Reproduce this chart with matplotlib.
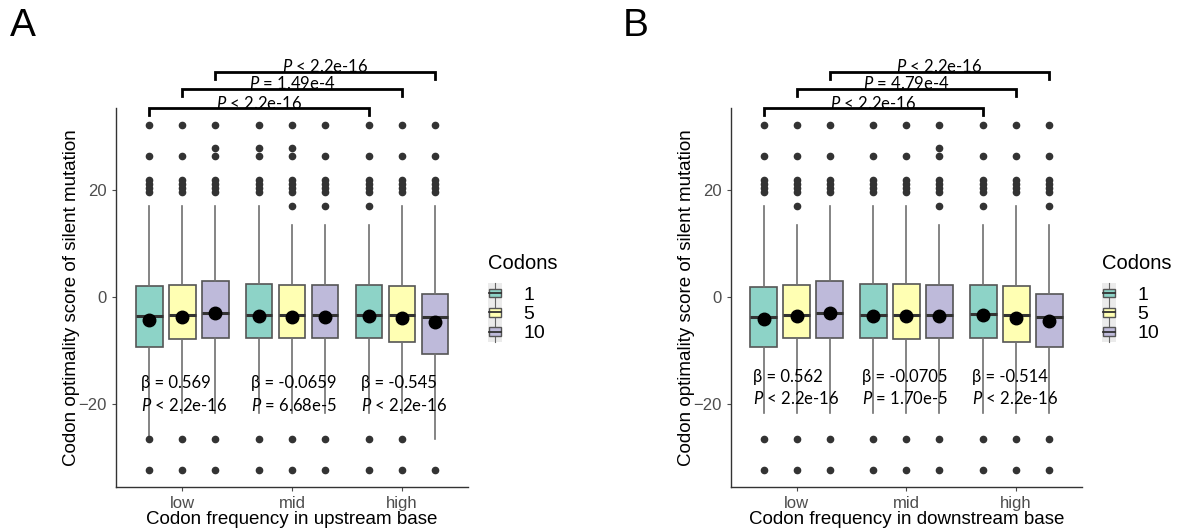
import numpy as np
import matplotlib
matplotlib.use('Agg')
import matplotlib.pyplot as plt
from matplotlib.legend_handler import HandlerBase
from matplotlib.patches import Rectangle, Patch
from matplotlib.lines import Line2D

plt.rcParams['font.family'] = ['Liberation Sans', 'DejaVu Sans']
plt.rcParams['mathtext.fontset'] = 'custom'
plt.rcParams['mathtext.it'] = 'Lato:italic'
plt.rcParams['mathtext.rm'] = 'Lato'

groups = ['low', 'mid', 'high']
codons = ['1', '5', '10']
colors = ['#8DD3C7', '#FFFFB3', '#BEBADA']

# panel A - upstream base (boxes ordered low1, low5, low10, mid1, ... high10)
a_q1 = [-9.3, -7.9, -7.6, -7.6, -7.6, -7.6, -7.6, -8.5, -10.7]
a_med = [-3.6, -3.3, -2.9, -3.4, -3.4, -3.4, -3.4, -3.4, -3.8]
a_q3 = [2.0, 2.2, 3.1, 2.4, 2.2, 2.2, 2.2, 2.0, 0.5]
a_mean = [-4.2, -3.7, -3.0, -3.5, -3.7, -3.7, -3.6, -3.9, -4.7]
a_whislo = [-26.6, -21.8, -21.8, -21.8, -21.8, -21.8, -21.8, -21.8, -26.6]
a_whishi = [17.1, 17.1, 17.1, 17.1, 13.5, 13.5, 13.5, 17.1, 17.1]
a_fliers = [
    [32.3, 26.4, 22.0, 21.2, 20.4, 19.8, -26.6, -32.5],
    [32.3, 26.4, 22.0, 21.2, 20.4, 19.8, -26.6, -32.5],
    [32.3, 27.9, 26.4, 22.0, 21.2, 20.4, 19.8, -26.6, -32.5],
    [32.3, 27.9, 26.4, 22.0, 21.2, 20.4, 19.8, -26.6, -32.5],
    [32.3, 27.9, 26.4, 22.0, 21.2, 20.4, 19.8, 17.1, -26.6, -32.5],
    [32.3, 26.4, 22.0, 21.2, 20.4, 19.8, 17.1, -26.6, -32.5],
    [32.3, 26.4, 22.0, 21.2, 20.4, 19.8, 17.1, -26.6, -32.5],
    [32.3, 26.4, 22.0, 21.2, 20.4, 19.8, -26.6, -32.5],
    [32.3, 26.4, 22.0, 21.2, 20.4, 19.8, -32.5],
]
a_beta = ['0.569', '-0.0659', '-0.545']
a_pval = ['< 2.2e-16', '= 6.68e-5', '< 2.2e-16']
a_cmp = ['< 2.2e-16', '= 1.49e-4', '< 2.2e-16']

# panel B - downstream base
b_q1 = [-9.3, -7.6, -7.6, -7.6, -7.8, -7.6, -7.6, -8.4, -9.3]
b_med = [-3.8, -3.4, -2.9, -3.4, -3.4, -3.4, -3.1, -3.3, -3.8]
b_q3 = [1.9, 2.2, 3.1, 2.5, 2.4, 2.3, 2.2, 2.0, 0.5]
b_mean = [-4.1, -3.6, -3.0, -3.6, -3.6, -3.6, -3.4, -3.9, -4.5]
b_whislo = [-21.8, -21.8, -21.8, -21.8, -21.8, -21.8, -21.8, -21.8, -21.8]
b_whishi = [17.1, 13.5, 17.1, 17.1, 17.1, 13.5, 13.5, 17.1, 13.5]
b_fliers = [
    [32.3, 26.4, 22.0, 21.2, 20.4, 19.8, -26.6, -32.5],
    [32.3, 26.4, 22.0, 21.2, 20.4, 19.8, 17.1, -26.6, -32.5],
    [32.3, 26.4, 22.0, 21.2, 20.4, 19.8, -26.6, -32.5],
    [32.3, 26.4, 22.0, 21.2, 20.4, 19.8, -26.6, -32.5],
    [32.3, 26.4, 22.0, 21.2, 20.4, 19.8, -26.6, -32.5],
    [32.3, 27.9, 26.4, 22.0, 21.2, 20.4, 19.8, 17.1, -26.6, -32.5],
    [32.3, 26.4, 22.0, 21.2, 20.4, 19.8, 17.1, -26.6, -32.5],
    [32.3, 26.4, 22.0, 21.2, 20.4, 19.8, -26.6, -32.5],
    [32.3, 26.4, 22.0, 21.2, 20.4, 19.8, 17.1, -26.6, -32.5],
]
b_beta = ['0.562', '-0.0705', '-0.514']
b_pval = ['< 2.2e-16', '= 1.70e-5', '< 2.2e-16']
b_cmp = ['< 2.2e-16', '= 4.79e-4', '< 2.2e-16']


class BoxKey(HandlerBase):
    # mini boxplot legend key like ggplot
    def create_artists(self, legend, orig_handle, xdescent, ydescent,
                       width, height, fontsize, trans):
        x0, y0 = -xdescent, -ydescent
        bg = Rectangle((x0, y0 - 1), width, height + 2, facecolor='#EBEBEB',
                       edgecolor='none', transform=trans)
        box = Rectangle((x0 + 0.1 * width, y0 + 0.25 * height), 0.8 * width, 0.5 * height,
                        facecolor=orig_handle.get_facecolor(), edgecolor='#555555',
                        lw=1.0, transform=trans)
        xm = x0 + width / 2
        w1 = Line2D([xm, xm], [y0 - 1, y0 + 0.25 * height], color='#666666', lw=0.8, transform=trans)
        w2 = Line2D([xm, xm], [y0 + 0.75 * height, y0 + height + 1], color='#666666', lw=0.8, transform=trans)
        med = Line2D([x0 + 0.1 * width, x0 + 0.9 * width], [y0 + height / 2] * 2,
                     color='#333333', lw=1.3, transform=trans)
        return [bg, w1, w2, box, med]


def draw_panel(ax, q1, med, q3, mean, whislo, whishi, fliers, beta, pval, cmp,
               xlabel, tx, ty):
    offsets = [-0.3, 0.0, 0.3]
    pos = []
    for g in range(3):
        for k in range(3):
            pos.append(g + 1 + offsets[k])
    stats = []
    for i in range(9):
        stats.append(dict(q1=q1[i], med=med[i], q3=q3[i], mean=mean[i],
                          whislo=whislo[i], whishi=whishi[i], fliers=fliers[i]))
    bp = ax.bxp(stats, positions=pos, widths=0.245, patch_artist=True,
                showmeans=True, showcaps=False,
                boxprops=dict(edgecolor='#555555', linewidth=1.2),
                whiskerprops=dict(color='#707070', linewidth=1.2),
                medianprops=dict(color='#333333', linewidth=2.2),
                flierprops=dict(marker='o', markerfacecolor='#333333',
                                markeredgecolor='#333333', markersize=4.5),
                meanprops=dict(marker='o', markerfacecolor='black',
                               markeredgecolor='black', markersize=9))
    for i, b in enumerate(bp['boxes']):
        b.set_facecolor(colors[i % 3])

    for g in range(3):
        ax.text(g + 1 + tx, ty[0], '\u03b2 = ' + beta[g], family='Lato',
                fontsize=12, ha='left', va='center')
        ax.text(g + 1 + tx, ty[1], '$P$ ' + pval[g], family='Lato',
                fontsize=12, ha='left', va='center')

    # significance brackets between low and high for each codon count
    levels = [35.4, 39.0, 42.2]
    for k in range(3):
        x1 = pos[k]
        x2 = pos[6 + k]
        y = levels[k]
        ax.plot([x1, x1, x2, x2], [y - 1.3, y, y, y - 1.3], color='black',
                lw=2, clip_on=False, solid_joinstyle='miter')
        ax.text((x1 + x2) / 2, y - 0.6, '$P$ ' + cmp[k], family='Lato',
                fontsize=12, ha='center', va='bottom', clip_on=False)

    ax.set_xlim(0.4, 3.6)
    ax.set_ylim(-35.6, 35.45)
    ax.set_xticks([1, 2, 3])
    ax.set_xticklabels(groups)
    ax.set_yticks([-20, 0, 20])
    ax.tick_params(colors='#4D4D4D', labelsize=12, length=3, width=0.8)
    for s in ['top', 'right']:
        ax.spines[s].set_visible(False)
    for s in ['left', 'bottom']:
        ax.spines[s].set_color('#333333')
        ax.spines[s].set_linewidth(1.0)
    ax.set_xlabel(xlabel, fontsize=13.5, labelpad=0)
    ax.set_ylabel('Codon optimality score of silent mutation', fontsize=13.5, labelpad=-1)

    ax.text(1.057, 0.591, 'Codons', transform=ax.transAxes, fontsize=14.5,
            ha='left', va='center')
    handles = [Patch(facecolor=c) for c in colors]
    leg = ax.legend(handles, codons, loc='upper left',
                    bbox_to_anchor=(1.057, 0.535), frameon=False, fontsize=14,
                    handler_map={Patch: BoxKey()},
                    handlelength=0.72, handleheight=1.0, labelspacing=0.0,
                    handletextpad=1.1, borderpad=0, borderaxespad=0)
    return leg


fig = plt.figure(figsize=(11.89, 5.30), dpi=100)
axA = fig.add_axes([0.0976, 0.0811, 0.296, 0.715])
axB = fig.add_axes([0.6146, 0.0811, 0.2954, 0.715])

draw_panel(axA, a_q1, a_med, a_q3, a_mean, a_whislo, a_whishi, a_fliers,
           a_beta, a_pval, a_cmp, 'Codon frequency in upstream base', -0.375, [-16.1, -20.3])
draw_panel(axB, b_q1, b_med, b_q3, b_mean, b_whislo, b_whishi, b_fliers,
           b_beta, b_pval, b_cmp, 'Codon frequency in downstream base', -0.40, [-14.9, -19.0])

fig.text(0.008, 0.985, 'A', fontsize=28, va='top', ha='left')
fig.text(0.524, 0.985, 'B', fontsize=28, va='top', ha='left')

fig.savefig('out.png', dpi=100)
